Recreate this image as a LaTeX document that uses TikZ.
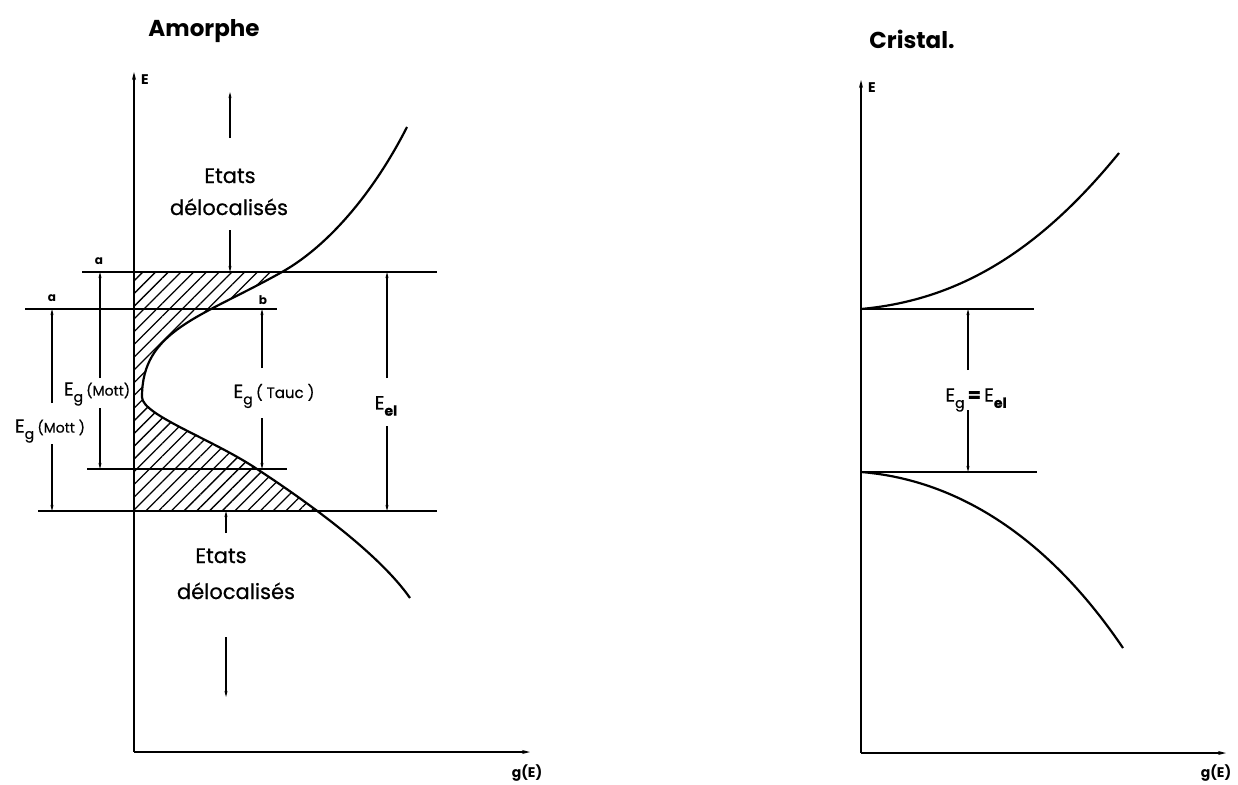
\documentclass[tikz,border=0pt]{standalone}
\usepackage{fontspec}
\setmainfont{Poppins}
\newfontfamily\medfont{Poppins}[FakeBold=0.6]
\usetikzlibrary{arrows.meta,patterns.meta}
\newcommand{\sublab}[1]{\raisebox{-0.6ex}{\fontsize{14}{14}\selectfont #1}}
\newcommand{\amorphcurve}{(407,127) .. controls (375,190) and (330,245) .. (282,272)
  .. controls (200,318) and (142,330) .. (142,397)
  .. controls (142,415) and (212,439) .. (257,469)
  .. controls (312,505) and (380,555) .. (410,598)}
\begin{document}
\begin{tikzpicture}[x=1pt,y=-1pt,
  axisline/.style={line width=1.8pt,-{Stealth[length=8pt,width=4pt]}},
  level/.style={line width=2.4pt},
  band/.style={line width=2.2pt},
  dim/.style={line width=1.1pt,-{Stealth[length=6pt,width=3pt]}},
  lab/.style={font=\medfont\fontsize{19}{19}\selectfont, inner sep=1pt},
  small/.style={font=\fontsize{12}{12}\selectfont\bfseries, inner sep=1pt},
  axlab/.style={font=\fontsize{14}{14}\selectfont\bfseries, inner sep=1pt},
  title/.style={font=\fontsize{23}{23}\selectfont\bfseries},
  states/.style={font=\medfont\fontsize{21}{21}\selectfont, inner sep=0pt, anchor=base}
]
\useasboundingbox (0,0) rectangle (1238,784);

% ---------------- Amorphe ----------------
\node[title] (tA) at (204,31) {Amorphe};
\coordinate (Ao) at (134,752);
\coordinate (Atop) at (134,72);
\coordinate (Ax) at (530,752);
\node[axlab, anchor=west] (AE) at (140,80) {E};
\node[axlab, anchor=north] (AgE) at (527,764) {g(E)};

% hatched region
\begin{scope}
  \clip (134,272) rectangle (500,511);
  \fill[pattern={Lines[angle=45,distance=9pt,line width=1.3pt]}]
    (134,127) -- \amorphcurve -- (134,598) -- cycle;
\end{scope}
\draw[band] \amorphcurve;

\draw[axisline] (Ao) -- (Atop);
\draw[axisline] (Ao) -- (Ax);

% levels
\coordinate (L1a) at (82,272);  \coordinate (L1b) at (437,272);
\coordinate (L2a) at (25,309);  \coordinate (L2b) at (277,309);
\coordinate (L3a) at (87,469);  \coordinate (L3b) at (287,469);
\coordinate (L4a) at (38,511);  \coordinate (L4b) at (437,511);
\draw[level] (L1a) -- (L1b);
\draw[level] (L2a) -- (L2b);
\draw[level] (L3a) -- (L3b);
\draw[level] (L4a) -- (L4b);

\node[small] (a1) at (99,261) {a};
\node[small] (a2) at (52,298) {a};
\node[small] (b1) at (263,300) {b};

% E_g (Mott) inner
\node[lab] (M1) at (97,394) {E\sublab{g}\,{\fontsize{14}{14}\selectfont(Mott)}};
\coordinate (M1t) at (100,272); \coordinate (M1b) at (100,469);
\draw[dim] (100,378) -- (M1t);
\draw[dim] (100,408) -- (M1b);

% E_g (Mott) outer
\node[lab] (M2) at (50,431) {E\sublab{g}\,{\fontsize{14}{14}\selectfont(Mott )}};
\coordinate (M2t) at (52,309); \coordinate (M2b) at (52,511);
\draw[dim] (52,403) -- (M2t);
\draw[dim] (52,444) -- (M2b);

% E_g (Tauc)
\node[lab] (T1) at (274,396) {E\sublab{g}\,{\fontsize{15}{15}\selectfont( Tauc )}};
\coordinate (T1t) at (262,309); \coordinate (T1b) at (262,469);
\draw[dim] (262,368) -- (T1t);
\draw[dim] (262,418) -- (T1b);

% E_el
\node[lab] (El) at (386,406) {E\sublab{\bfseries el}};
\coordinate (Elt) at (387,272); \coordinate (Elb) at (387,511);
\draw[dim] (387,378) -- (Elt);
\draw[dim] (387,426) -- (Elb);

% Etats delocalises
\node[states] (S1a) at (230,183) {Etats};
\node[states] (S1b) at (229,215) {délocalisés};
\coordinate (S1u) at (230,92); \coordinate (S1d) at (230,272);
\draw[dim] (230,138) -- (S1u);
\draw[dim] (230,230) -- (S1d);

\node[states] (S2a) at (221,563) {Etats};
\node[states] (S2b) at (236,599) {délocalisés};
\coordinate (S2u) at (226,511); \coordinate (S2d) at (226,697);
\draw[dim] (226,533) -- (S2u);
\draw[dim] (226,637) -- (S2d);

% ---------------- Cristal ----------------
\node[title] (tC) at (912,39) {Cristal.};
\coordinate (Co) at (861,753);
\coordinate (Ctop) at (861,80);
\coordinate (Cx) at (1226,753);
\node[axlab, anchor=west] (CE) at (867,88) {E};
\node[axlab, anchor=north] (CgE) at (1216,764) {g(E)};

\draw[axisline] (Co) -- (Ctop);
\draw[axisline] (Co) -- (Cx);

\coordinate (C1a) at (861,309); \coordinate (C1b) at (1034,309);
\coordinate (C2a) at (861,472); \coordinate (C2b) at (1037,472);
\draw[level] (C1a) -- (C1b);
\draw[level] (C2a) -- (C2b);

\draw[band] (C1a) .. controls (960,300) and (1040,250) .. (1119,153);
\draw[band] (C2a) .. controls (960,480) and (1050,540) .. (1123,648);

\node[lab] (Cg) at (976,400) {E\sublab{g}\,{\bfseries=}\,E\sublab{\bfseries el}};
\coordinate (Cgt) at (968,309); \coordinate (Cgb) at (968,472);
\draw[dim] (968,370) -- (Cgt);
\draw[dim] (968,410) -- (Cgb);
\end{tikzpicture}
\end{document}
